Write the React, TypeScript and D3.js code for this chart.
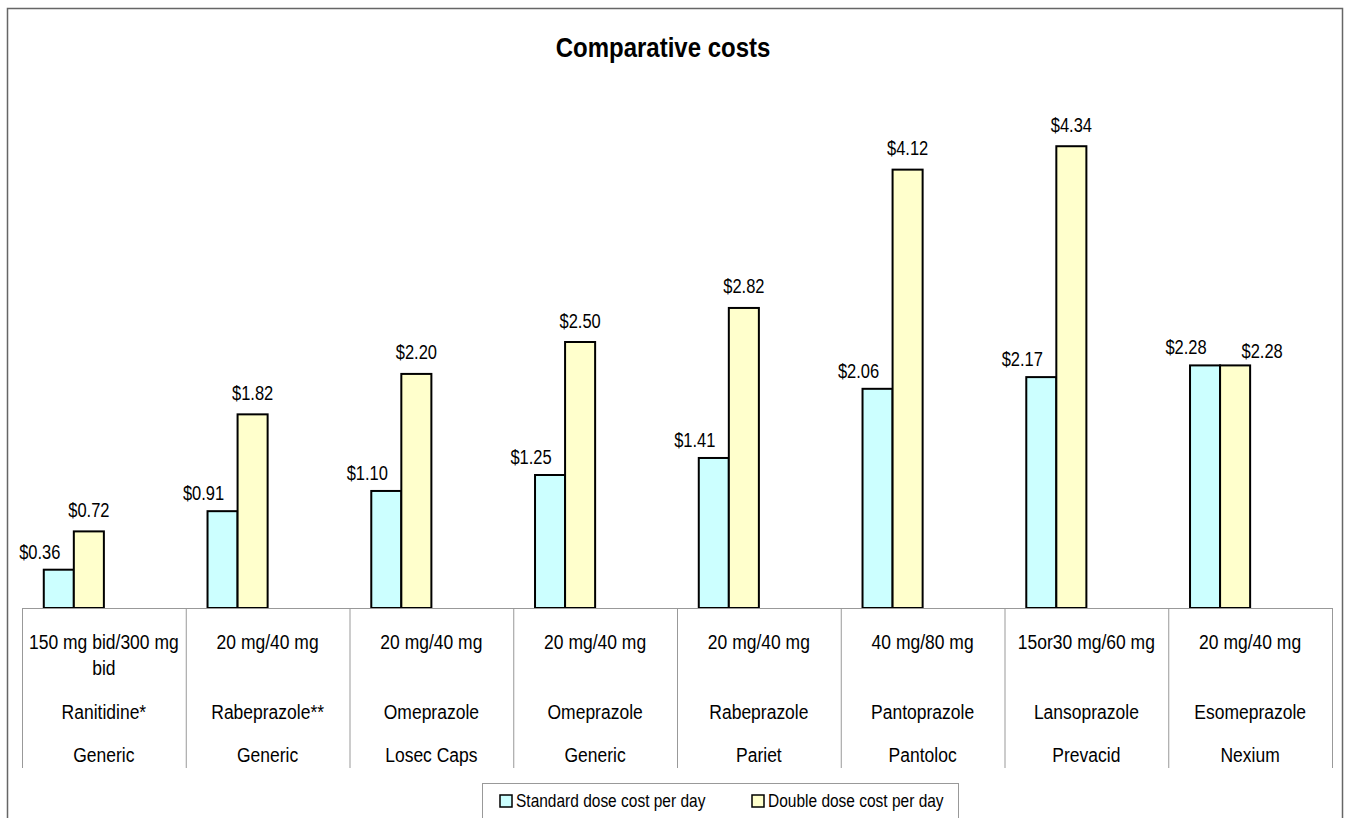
import { useEffect, useRef } from "react";
import * as d3 from "d3";

// table rows under the bars, one entry per category
const doses = [
  "150 mg bid/300 mg bid",
  "20 mg/40 mg",
  "20 mg/40 mg",
  "20 mg/40 mg",
  "20 mg/40 mg",
  "40 mg/80 mg",
  "15or30 mg/60 mg",
  "20 mg/40 mg",
];
const drugs = [
  "Ranitidine*",
  "Rabeprazole**",
  "Omeprazole",
  "Omeprazole",
  "Rabeprazole",
  "Pantoprazole",
  "Lansoprazole",
  "Esomeprazole",
];
const brands = [
  "Generic",
  "Generic",
  "Losec Caps",
  "Generic",
  "Pariet",
  "Pantoloc",
  "Prevacid",
  "Nexium",
];

const standardCost = [0.36, 0.91, 1.1, 1.25, 1.41, 2.06, 2.17, 2.28];
const doubleCost = [0.72, 1.82, 2.2, 2.5, 2.82, 4.12, 4.34, 2.28];

const seriesNames = ["Standard dose cost per day", "Double dose cost per day"];
const seriesColors = ["#CCFFFF", "#FFFFCC"];

const W = 1348;
const H = 818;
const FONT = "'Liberation Sans', Arial, sans-serif";
const STRETCH = 1.2; // the original text is a bit taller than plain Arial

type Sel = d3.Selection<SVGGElement, unknown, null, undefined>;

// text placed via transform so it can be stretched vertically
const addText = (g: Sel, x: number, y: number, s: string, size: number, stretch = STRETCH) =>
  g.append("text")
    .attr("transform", `translate(${x},${y}) scale(1,${stretch})`)
    .attr("font-size", size)
    .text(s);

export default function App() {
  const svgRef = useRef<SVGSVGElement>(null);

  useEffect(() => {
    if (!svgRef.current) return;
    const svg = d3.select(svgRef.current);
    svg.selectAll("*").remove();

    const left = 22;
    const right = 1332;
    const baseline = 608;
    const tableBottom = 768;

    // outer chart border
    svg.append("rect")
      .attr("x", 7.5)
      .attr("y", 8.5)
      .attr("width", 1335)
      .attr("height", 840)
      .attr("fill", "#fff")
      .attr("stroke", "#666")
      .attr("stroke-width", 1.5);

    const root = svg.append("g")
      .attr("font-family", FONT)
      .attr("fill", "#000") as unknown as Sel;

    const titleG = root.append("g")
      .attr("text-anchor", "middle")
      .attr("font-weight", "bold");
    addText(titleG, 663, 57, "Comparative costs", 24, 1.12);

    const x = d3.scaleBand<number>()
      .domain(d3.range(doses.length))
      .range([left, right]);
    const bw = x.bandwidth();

    // Excel-style group: bars sit in the left half of each band
    const inner = d3.scaleBand<number>()
      .domain([0, 1])
      .range([bw * 0.133, bw / 2]);

    const y = d3.scaleLinear().domain([0, 5]).range([baseline, baseline - 532]);

    const series = [standardCost, doubleCost];
    const labelDx = [-19, 0];
    const labelDy = [-11, -14.5];
    const fmt = d3.format("$.2f");

    series.forEach((vals, si) => {
      svg.append("g")
        .selectAll("rect")
        .data(vals)
        .join("rect")
        .attr("x", (_, i) => x(i)! + inner(si)!)
        .attr("y", (d) => y(d))
        .attr("width", inner.bandwidth())
        .attr("height", (d) => baseline - y(d))
        .attr("fill", seriesColors[si])
        .attr("stroke", "#000")
        .attr("stroke-width", 2);
    });

    const labels = root.append("g").attr("text-anchor", "middle");
    series.forEach((vals, si) => {
      vals.forEach((v, i) => {
        let dx = labelDx[si];
        let dy = labelDy[si];
        // nudge the second label when it would collide with the first
        if (si === 1 && Math.abs(v - standardCost[i]) < 0.15) {
          dx += 27;
          dy += 7;
        }
        addText(
          labels,
          x(i)! + inner(si)! + inner.bandwidth() / 2 + dx,
          y(v) + dy,
          fmt(v),
          16.5
        );
      });
    });

    // data table under the axis
    const grid = svg.append("g").attr("stroke", "#999").attr("stroke-width", 1);
    grid.append("line")
      .attr("x1", left).attr("x2", right)
      .attr("y1", baseline + 0.5).attr("y2", baseline + 0.5);
    d3.range(doses.length + 1).forEach((i) => {
      const xx = i < doses.length ? x(i)! : right;
      grid.append("line")
        .attr("x1", xx + 0.5).attr("x2", xx + 0.5)
        .attr("y1", baseline).attr("y2", tableBottom);
    });

    const cell = root.append("g").attr("text-anchor", "middle");
    doses.forEach((d, i) => {
      const cx = x(i)! + bw / 2;
      // wrap long dose text like the original
      const cut = d.lastIndexOf(" ");
      const lines = d.length > 18 ? [d.slice(0, cut), d.slice(cut + 1)] : [d];
      lines.forEach((ln, li) => addText(cell, cx, 649 + li * 26, ln, 17.5));
      addText(cell, cx, 719, drugs[i], 17.5);
      addText(cell, cx, 762, brands[i], 17.5);
    });

    // legend
    const lg = root.append("g");
    lg.append("rect")
      .attr("x", 482.5).attr("y", 783.5)
      .attr("width", 476).attr("height", 40)
      .attr("fill", "#fff").attr("stroke", "#999");
    const itemX = [500, 752];
    seriesNames.forEach((name, si) => {
      lg.append("rect")
        .attr("x", itemX[si]).attr("y", 795)
        .attr("width", 12).attr("height", 12)
        .attr("fill", seriesColors[si])
        .attr("stroke", "#000").attr("stroke-width", 1.5);
      addText(lg, itemX[si] + 16, 807, name, 15.5, 1.15);
    });
  }, []);

  return (
    <svg
      ref={svgRef}
      width={W}
      height={H}
      style={{ position: "absolute", left: 0, top: 0, background: "#fff" }}
    />
  );
}
